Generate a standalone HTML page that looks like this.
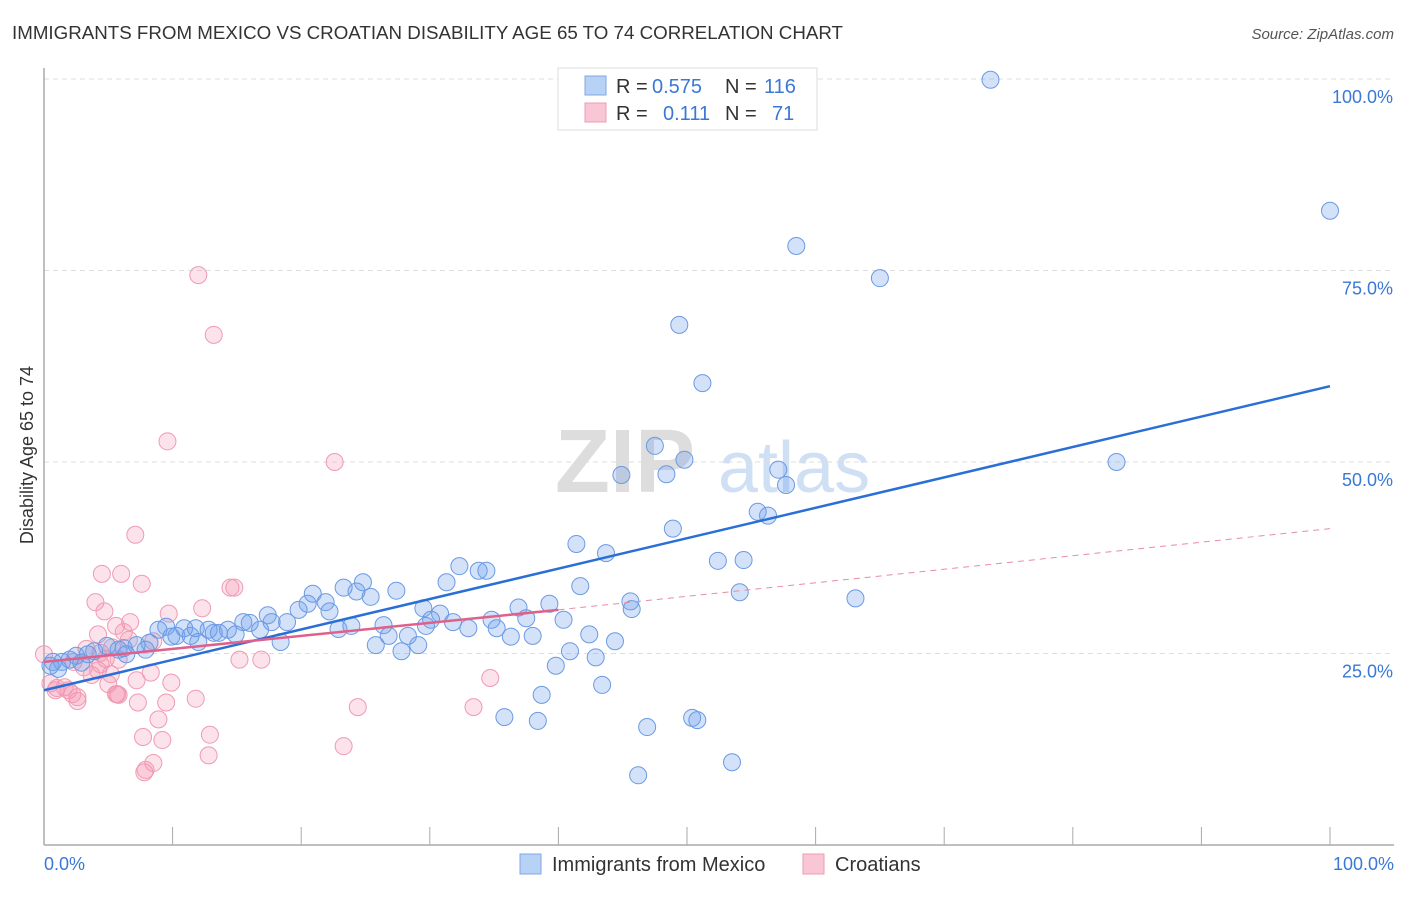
<!DOCTYPE html>
<html><head><meta charset="utf-8"><style>
body{margin:0;background:#fff;font-family:"Liberation Sans",sans-serif;}
svg text{font-family:"Liberation Sans",sans-serif;}
</style></head><body>
<svg id="chart" width="1406" height="892" xmlns="http://www.w3.org/2000/svg">
<text x="12" y="39" font-size="18" fill="#333" textLength="831" lengthAdjust="spacingAndGlyphs">IMMIGRANTS FROM MEXICO VS CROATIAN DISABILITY AGE 65 TO 74 CORRELATION CHART</text>
<text x="1394" y="39" font-size="15" fill="#555" font-style="italic" text-anchor="end">Source: ZipAtlas.com</text>
<text x="33" y="455" font-size="18" fill="#333" text-anchor="middle" transform="rotate(-90 33 455)">Disability Age 65 to 74</text>
<g><text x="555" y="492" font-size="90" fill="#ddd" font-family="Liberation Serif" font-weight="bold">ZIP</text><text x="718" y="492" font-size="72" fill="#cfe0f5">atlas</text></g>
<g id="grid"></g><g id="axes"></g><g id="pink"></g><g id="blue"></g><g id="lines"></g>
<g font-size="20">
<rect x="558" y="68" width="259" height="62" fill="#fff" stroke="#ddd"/>
<rect x="585" y="76" width="21" height="19" fill="#b8d2f5" stroke="#7ea8e6"/>
<rect x="585" y="103" width="21" height="19" fill="#f9c6d5" stroke="#eb9db5"/>
<text x="616" y="93" fill="#333">R =</text><text x="652" y="93" fill="#3a78d6">0.575</text>
<text x="725" y="93" fill="#333">N =</text><text x="764" y="93" fill="#3a78d6">116</text>
<text x="616" y="120" fill="#333">R =</text><text x="663" y="120" fill="#3a78d6">0.111</text>
<text x="725" y="120" fill="#333">N =</text><text x="772" y="120" fill="#3a78d6">71</text>
</g>
<g>
<rect x="520" y="854" width="21" height="20" fill="#b8d2f5" stroke="#7ea8e6"/>
<text x="552" y="871" font-size="20" fill="#333">Immigrants from Mexico</text>
<rect x="803" y="854" width="21" height="20" fill="#f9c6d5" stroke="#eb9db5"/>
<text x="835" y="871" font-size="20" fill="#333">Croatians</text>
</g>
</svg>
<script>
const yTicks=[100,75,50,25];
const xTickLabels=["0.0%","100.0%"];
const blueX=[73.6,100,58.5,65,49.4,51.2,83.4,47.5,49.8,44.9,48.4,57.1,57.7,55.5,56.3,48.9,41.4,43.7,52.4,54.4,32.3,33.8,34.4,31.3,41.7,54.1,63.1,45.6,45.7,39.3,36.9,37.5,40.4,34.8,35.2,33.0,31.8,30.8,29.5,30.1,29.7,36.3,38.0,42.4,44.4,40.9,42.9,39.8,43.4,38.7,35.8,38.4,46.9,50.4,50.8,46.2,53.5,27.4,24.8,23.3,24.3,25.4,20.9,21.9,20.5,19.8,22.2,17.4,18.9,17.7,16.8,15.5,16.0,14.3,13.2,12.8,13.6,14.9,18.4,22.9,23.9,26.4,26.8,25.8,28.3,27.8,29.1,10.9,11.8,9.5,10.3,11.4,8.9,9.9,12.0,8.2,7.2,6.2,4.9,5.8,6.4,3.9,3.4,2.5,2.0,1.4,0.7,0.5,1.1,7.9,2.9];
const blueY=[99.9,82.8,78.2,74.0,67.9,60.3,50.0,52.1,50.3,48.3,48.4,49.0,47.0,43.5,43.0,41.3,39.3,38.1,37.1,37.2,36.4,35.8,35.8,34.3,33.8,33.0,32.2,31.8,30.8,31.5,31.0,29.6,29.4,29.4,28.3,28.3,29.1,30.2,30.9,29.4,28.6,27.2,27.3,27.5,26.6,25.3,24.5,23.4,20.9,19.6,16.7,16.2,15.4,16.6,16.3,9.1,10.8,33.2,34.3,33.6,33.1,32.4,32.8,31.7,31.5,30.7,30.5,30.0,29.1,29.1,28.1,29.1,29.0,28.1,27.7,28.1,27.7,27.5,26.5,28.2,28.6,28.7,27.3,26.1,27.3,25.3,26.1,28.3,28.3,28.5,27.3,27.3,28.1,27.2,26.5,26.4,26.1,25.7,26.0,25.5,24.9,25.3,24.9,24.7,24.2,23.9,23.9,23.4,23.0,25.5,23.8];
const pinkX=[12.0,13.2,9.6,22.6,7.1,4.5,6.0,7.6,14.5,14.8,4.0,4.7,9.7,12.3,6.7,5.6,6.2,4.2,6.6,8.5,5.3,3.3,4.4,0,15.2,16.9,4.8,2.3,3.1,5.2,8.3,4.2,7.2,9.9,5.0,34.7,0.5,1.0,1.6,1.9,0.9,2.2,2.6,5.7,5.8,11.8,7.3,9.5,24.4,33.4,2.6,8.9,7.7,9.2,12.9,12.8,23.3,8.5,7.9,7.8,5.6,4.4,5.8,3.7];
const pinkY=[74.4,66.6,52.7,50.0,40.5,35.4,35.4,34.1,33.6,33.6,31.7,30.5,30.2,30.9,29.1,28.6,27.8,27.5,26.8,26.6,25.8,25.6,25.1,24.9,24.2,24.2,24.3,23.9,23.2,22.3,22.5,22.8,21.5,21.2,21.0,21.8,21.1,20.5,20.6,20.2,20.2,19.7,19.3,19.7,19.6,19.1,18.6,18.6,18.0,18.0,18.8,16.4,14.1,13.7,14.4,11.7,12.9,10.7,9.8,9.5,19.7,23.6,24.2,22.2];
const blueTrend=[20.2,59.9];
const pinkTrend=[23.9,30.7,41.3];
const NS="http://www.w3.org/2000/svg";
const sx=v=>44+v*12.86, sy=v=>845-v*7.66;
function mk(tag,attrs,parent){const e=document.createElementNS(NS,tag);for(const k in attrs)e.setAttribute(k,attrs[k]);parent.appendChild(e);return e;}
const grid=document.getElementById('grid'),axes=document.getElementById('axes');
yTicks.forEach(t=>{
  const l=mk('line',{x1:44,x2:1394,y1:sy(t),y2:sy(t),stroke:'#ddd','stroke-dasharray':'5,4'},grid);
  
  
  const tx=mk('text',{x:1393,y:sy(t)+24,'font-size':18,fill:'#3a78d6','text-anchor':'end'},grid);
  tx.textContent=t.toFixed(1)+'%';
  
  
});
const yax=mk('line',{x1:44,x2:44,y1:68,y2:845,stroke:'#aaa','stroke-width':1.5},axes);


const xax=mk('line',{x1:44,x2:1394,y1:845,y2:845,stroke:'#aaa','stroke-width':1.5},axes);


for(let i=0;i<=10;i++){const t=mk('line',{x1:sx(i*10),x2:sx(i*10),y1:827,y2:845,stroke:'#aaa'},axes);
  
  }
[[0,'start'],[100,'end']].forEach((p,i)=>{const t=mk('text',{x:p[0]==0?44:1394,y:870,'font-size':18,fill:'#3a78d6','text-anchor':p[1]},axes);t.textContent=xTickLabels[i];
  
  });
const pg=document.getElementById('pink'),bg=document.getElementById('blue');
pinkX.forEach((x,i)=>{const c=mk('circle',{cx:sx(x),cy:sy(pinkY[i]),r:8.5,fill:'rgba(244,150,178,0.28)',stroke:'#f09ab3','stroke-width':1},pg);
  
  });
blueX.forEach((x,i)=>{const c=mk('circle',{cx:sx(x),cy:sy(blueY[i]),r:8.5,fill:'rgba(110,160,235,0.3)',stroke:'#6b9ae3','stroke-width':1},bg);
  
  });
const lg=document.getElementById('lines');
const bl=mk('line',{x1:sx(0),y1:sy(blueTrend[0]),x2:sx(100),y2:sy(blueTrend[1]),stroke:'#2a6fd6','stroke-width':2.5},lg);


const pd=mk('line',{x1:sx(40),y1:sy(pinkTrend[1]),x2:sx(100),y2:sy(pinkTrend[2]),stroke:'#e98aa6','stroke-width':1,'stroke-dasharray':'6,5'},lg);


const pl=mk('line',{x1:sx(0),y1:sy(pinkTrend[0]),x2:sx(40),y2:sy(pinkTrend[1]),stroke:'#e0608a','stroke-width':2.5},lg);


</script>
</body></html>
